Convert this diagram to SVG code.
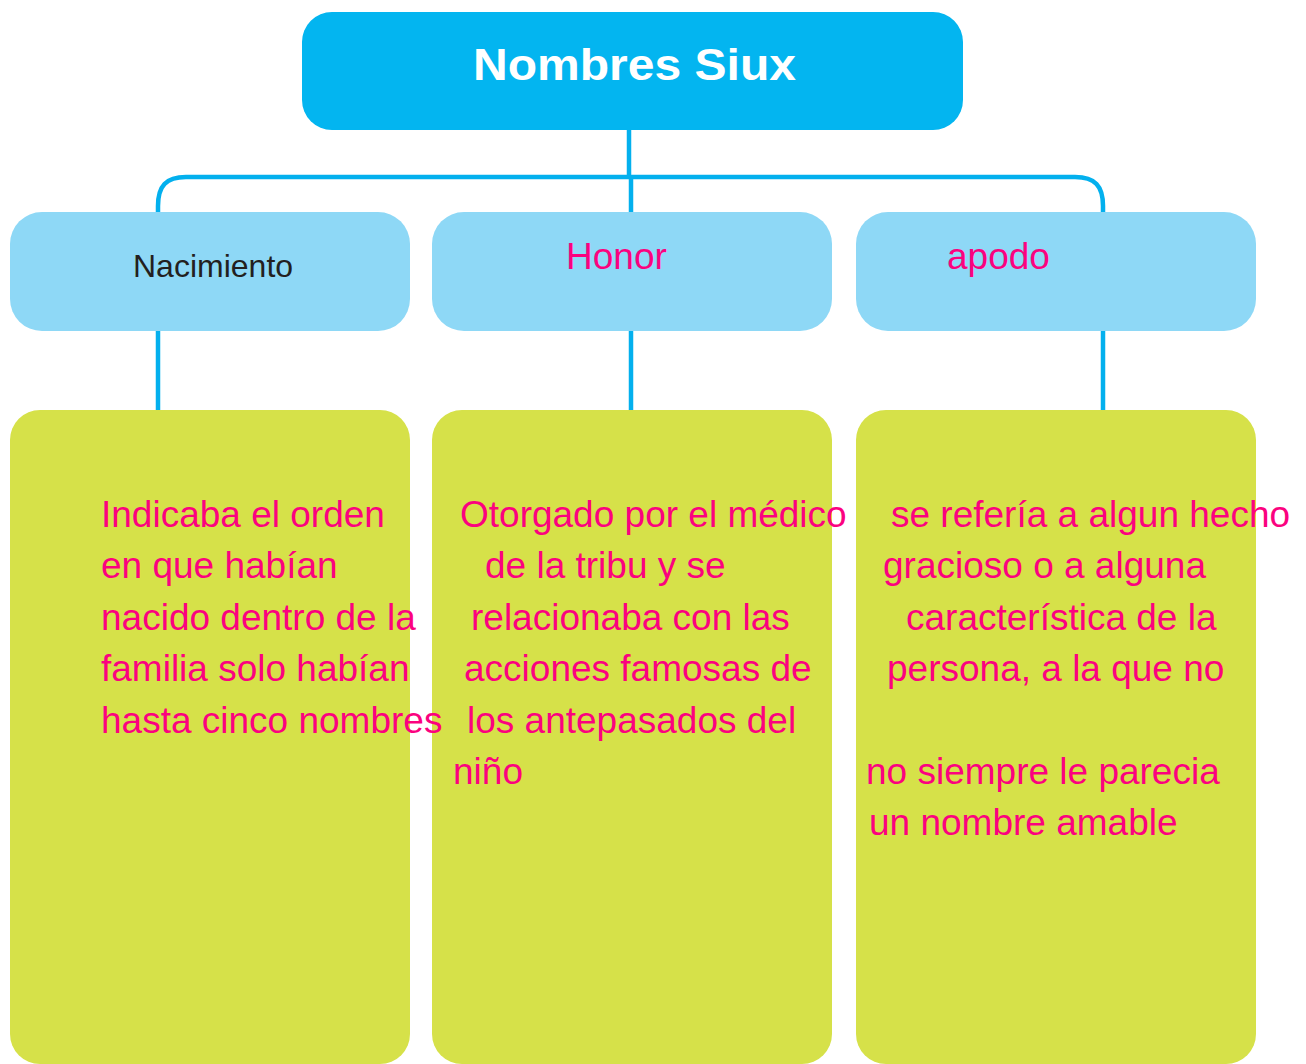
<svg xmlns="http://www.w3.org/2000/svg" width="1306" height="1064" viewBox="0 0 1306 1064">
<style>
.top{fill:#03b5f0}
.mid{fill:#8ed8f6}
.bot{fill:#d6e149}
.conn{fill:none;stroke:#03b0ee;stroke-width:4.5}
.t{font-family:"Liberation Sans",Arial,sans-serif;font-size:37px;fill:#fb027f}
.title{font-family:"Liberation Sans",Arial,sans-serif;font-size:44px;font-weight:bold;fill:#ffffff}
.blk{font-family:"Liberation Sans",Arial,sans-serif;font-size:32px;fill:#231f20}
</style>
<rect width="1306" height="1064" fill="#ffffff"/>
<g id="connectors">
<path class="conn" d="M629,128 L629,177"/>
<path class="conn" d="M158,214 L158,206 C158,186 166,177 186,177 L1075,177 C1095,177 1103,186 1103,206 L1103,214"/>
<path class="conn" d="M631,177 L631,214"/>
<path class="conn" d="M158,329 L158,412"/>
<path class="conn" d="M631,329 L631,412"/>
<path class="conn" d="M1103,329 L1103,412"/>
</g>
<g id="node-root">
<rect class="top" x="302" y="12" width="661" height="118" rx="30" ry="30"/>
<text class="title" x="473" y="80" textLength="323" lengthAdjust="spacingAndGlyphs">Nombres Siux</text>
</g>
<g id="node-nacimiento">
<rect class="mid" x="10" y="212" width="400" height="119" rx="32" ry="32"/>
<text class="blk" x="133" y="277">Nacimiento</text>
</g>
<g id="node-honor">
<rect class="mid" x="432" y="212" width="400" height="119" rx="32" ry="32"/>
<text class="t" x="566" y="269">Honor</text>
</g>
<g id="node-apodo">
<rect class="mid" x="856" y="212" width="400" height="119" rx="32" ry="32"/>
<text class="t" x="947" y="269">apodo</text>
</g>
<g id="node-desc-honor">
<rect class="bot" x="432" y="410" width="400" height="654" rx="30" ry="30"/>
<text class="t" x="460" y="527">Otorgado por el médico</text>
<text class="t" x="485" y="578">de la tribu y se</text>
<text class="t" x="471" y="630">relacionaba con las</text>
<text class="t" x="464" y="681">acciones famosas de</text>
<text class="t" x="467" y="733">los antepasados del</text>
<text class="t" x="453" y="784">niño</text>
</g>
<g id="node-desc-apodo">
<rect class="bot" x="856" y="410" width="400" height="654" rx="30" ry="30"/>
<text class="t" x="891" y="527">se refería a algun hecho</text>
<text class="t" x="883" y="578">gracioso o a alguna</text>
<text class="t" x="906" y="630">característica de la</text>
<text class="t" x="887" y="681">persona, a la que no</text>
<text class="t" x="866" y="784">no siempre le parecia</text>
<text class="t" x="869" y="835">un nombre amable</text>
</g>
<g id="node-desc-nacimiento">
<rect class="bot" x="10" y="410" width="400" height="654" rx="30" ry="30"/>
<text class="t" x="101" y="527">Indicaba el orden</text>
<text class="t" x="101" y="578">en que habían</text>
<text class="t" x="101" y="630">nacido dentro de la</text>
<text class="t" x="101" y="681">familia solo habían</text>
<text class="t" x="101" y="733">hasta cinco nombres</text>
</g>
</svg>
